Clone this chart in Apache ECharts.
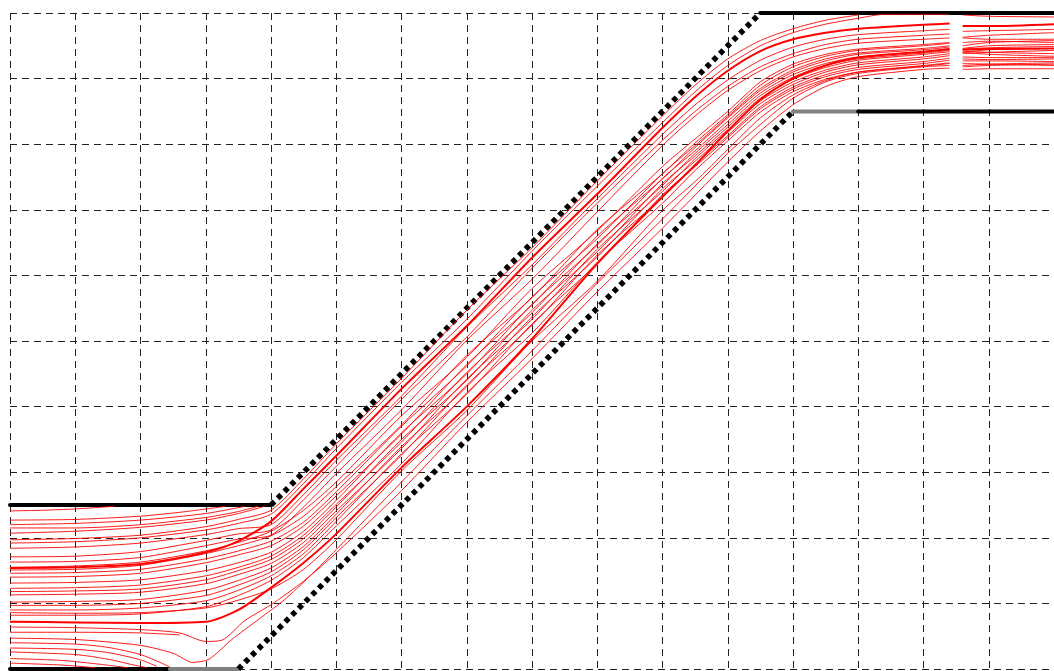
<!DOCTYPE html>
<html>
<head>
<meta charset="utf-8">
<script src="https://cdn.jsdelivr.net/npm/echarts@6/dist/echarts.min.js"></script>
<style>html,body{margin:0;padding:0;background:#fff;}#c{width:1054px;height:671px;}</style>
</head>
<body>
<div id="c"></div>
<script>
// ---- boundary lines (data units: 1 grid cell = 1) ----
const upperFlat  = [[0,2.5],[4,2.5]];
const upperDiag  = [[4,2.5],[11.5,10]];
const upperTop   = [[11.5,10],[16.2,10]];
const lowerFlat  = [[0,0],[2.45,0]];
const lowerGrayA = [[2.45,0],[3.5,0]];
const lowerDiag  = [[3.5,0],[12,8.5]];
const lowerGrayB = [[12,8.5],[13,8.5]];
const lowerTop   = [[13,8.5],[16.2,8.5]];

// ---- trajectories ('-' marks the break near x = 14.5) ----
const a1 = [[0,2.41],[0.5,2.42],[1,2.44],[1.6,2.48]];
const a2 = [[0,2.27],[1,2.28],[2,2.33],[2.7,2.4],[3.3,2.48]];
const a3 = [[0,2.2],[1,2.22],[2,2.27],[3,2.37],[3.6,2.48]];
const a4 = [[0,2.15],[1,2.15],[2,2.2],[3,2.31],[3.5,2.4],[3.8,2.48]];
const a5 = [[0,2.07],[1,2.1],[2,2.16],[3,2.27],[3.5,2.37],[3.9,2.48]];

const b1 = [[0,1.97],[1,1.99],[2,2.04],[3,2.17],[3.5,2.28],[4,2.42],[4.5,2.9],[5,3.43],[6,4.43],[7,5.47],[8,6.42],[9,7.44],[10,8.43],[10.5,8.9],[11,9.3],[11.5,9.58],[12,9.76],[12.5,9.89],[13,9.97]];
const b2 = [[0,1.92],[1,1.94],[2,2.0],[3,2.12],[3.5,2.22],[4,2.36],[4.5,2.83],[5,3.36],[6,4.37],[7,5.33],[8,6.37],[9,7.36],[10,8.33],[10.5,8.8],[11,9.2],[11.5,9.5],[12,9.7],[12.5,9.83],[13,9.92],[13.4,9.98],[14,9.98],[14.4,9.98],[14.5,'-'],[14.6,9.97],[15,9.95],[16,9.94]];
const b3 = [[0,1.54],[1,1.55],[2,1.6],[3,1.78],[3.5,1.95],[4,2.25],[4.5,2.75],[5,3.25],[6,4.27],[7,5.23],[8,6.27],[9,7.24],[10,8.25],[10.5,8.72],[11,9.12],[11.5,9.42],[12,9.6],[12.5,9.7],[13,9.76],[14,9.82],[14.4,9.84],[14.5,'-'],[14.6,9.8],[15,9.8],[16,9.83]];
const b4 = [[0,1.84],[1,1.86],[2,1.92],[3,2.05],[3.5,2.14],[4,2.2],[4.5,2.66],[5,3.18],[6,4.16],[7,5.21],[8,6.16],[9,7.17],[10,8.15],[10.5,8.6],[11,8.98],[11.5,9.28],[12,9.48],[12.5,9.6],[13,9.67],[14,9.73],[14.4,9.75],[14.5,'-'],[14.6,9.72],[15,9.73],[16,9.75]];
const b5 = [[0,1.71],[1,1.72],[2,1.79],[3,1.96],[3.5,2.06],[4,2.12],[4.5,2.58],[5,3.09],[6,4.11],[7,5.06],[8,6.11],[9,7.1],[10,8.06],[10.5,8.5],[11,8.88],[11.5,9.18],[12,9.38],[12.5,9.52],[13,9.6],[14,9.66],[14.4,9.68],[14.5,'-'],[14.6,9.63],[15,9.66],[16,9.7]];
const b6 = [[0,1.63],[1,1.64],[2,1.7],[3,1.88],[3.5,1.98],[4,2.04],[4.5,2.47],[5,2.98],[6,3.95],[7,5.01],[8,5.94],[9,6.97],[10,7.98],[10.5,8.43],[11,8.82],[11.5,9.12],[12,9.33],[12.5,9.46],[13,9.54],[14,9.6],[14.4,9.62],[14.5,'-'],[14.6,9.62],[15,9.6],[16,9.6]];

const c1 = [[0,1.55],[1,1.57],[2,1.63],[3,1.8],[3.5,1.93],[4,2.1],[4.5,2.42],[5,2.85],[6,3.86],[7,4.75],[8,5.8],[9,6.68],[10,7.66],[10.5,8.08],[11,8.5],[11.5,8.95],[12,9.22],[12.5,9.37],[13,9.45],[14,9.52],[14.4,9.55],[14.5,'-'],[14.6,9.55],[15,9.57],[16,9.55]];
const c2 = [[0,1.51],[1,1.52],[2,1.58],[3,1.76],[3.5,1.88],[4,2.03],[4.5,2.33],[5,2.78],[6,3.72],[7,4.78],[8,5.66],[9,6.7],[10,7.55],[10.5,8.02],[11,8.45],[11.5,8.9],[12,9.18],[12.5,9.34],[13,9.43],[14,9.5],[14.4,9.54],[14.5,'-'],[14.6,9.5],[15,9.55],[16,9.58]];
const c3 = [[0,1.46],[1,1.47],[2,1.52],[3,1.68],[3.5,1.8],[4,1.95],[4.5,2.24],[5,2.7],[6,3.7],[7,4.62],[8,5.67],[9,6.56],[10,7.55],[10.5,7.98],[11,8.42],[11.5,8.85],[12,9.13],[12.5,9.3],[13,9.39],[14,9.46],[14.4,9.5],[14.5,'-'],[14.6,9.46],[15,9.5],[16,9.52]];
const c4 = [[0,1.4],[1,1.41],[2,1.46],[3,1.62],[3.5,1.74],[4,1.88],[4.5,2.18],[5,2.64],[6,3.58],[7,4.64],[8,5.55],[9,6.6],[10,7.47],[10.5,7.95],[11,8.4],[11.5,8.82],[12,9.1],[12.5,9.27],[13,9.37],[14,9.44],[14.4,9.48],[14.5,'-'],[14.6,9.45],[15,9.47],[16,9.49]];
const c5 = [[0,1.31],[1,1.32],[2,1.36],[3,1.5],[3.5,1.62],[4,1.78],[4.5,2.1],[5,2.57],[6,3.6],[7,4.5],[8,5.56],[9,6.46],[10,7.48],[10.5,7.9],[11,8.35],[11.5,8.78],[12,9.06],[12.5,9.23],[13,9.33],[14,9.41],[14.4,9.45],[14.5,'-'],[14.6,9.4],[15,9.44],[16,9.46]];
const c6 = [[0,1.23],[1,1.24],[2,1.28],[3,1.42],[3.5,1.55],[4,1.72],[4.5,2.04],[5,2.51],[6,3.46],[7,4.52],[8,5.43],[9,6.48],[10,7.37],[10.5,7.86],[11,8.3],[11.5,8.74],[12,9.02],[12.5,9.2],[13,9.3],[14,9.39],[14.4,9.43],[14.5,'-'],[14.6,9.42],[15,9.4],[16,9.38]];
const c7 = [[0,1.18],[1,1.19],[2,1.22],[3,1.36],[3.5,1.5],[4,1.67],[4.5,1.99],[5,2.47],[6,3.5],[7,4.4],[8,5.47],[9,6.36],[10,7.4],[10.5,7.82],[11,8.26],[11.5,8.7],[12,8.99],[12.5,9.17],[13,9.28],[14,9.37],[14.4,9.41],[14.5,'-'],[14.6,9.38],[15,9.4],[16,9.43]];
const c8 = [[0,1.13],[1,1.14],[2,1.17],[3,1.3],[3.5,1.44],[4,1.61],[4.5,1.93],[5,2.41],[6,3.36],[7,4.42],[8,5.33],[9,6.4],[10,7.28],[10.5,7.78],[11,8.22],[11.5,8.66],[12,8.95],[12.5,9.13],[13,9.24],[14,9.33],[14.4,9.38],[14.5,'-'],[14.6,9.4],[15,9.37],[16,9.34]];
const c9 = [[0,1.02],[1,1.03],[2,1.06],[3,1.2],[3.5,1.35],[4,1.54],[4.5,1.87],[5,2.36],[6,3.39],[7,4.3],[8,5.37],[9,6.28],[10,7.32],[10.5,7.74],[11,8.18],[11.5,8.62],[12,8.91],[12.5,9.1],[13,9.21],[14,9.3],[14.4,9.35],[14.5,'-'],[14.6,9.33],[15,9.32],[16,9.32]];
const c10 = [[0,0.97],[1,0.97],[2,1.0],[3,1.12],[3.5,1.28],[4,1.48],[4.5,1.82],[5,2.31],[6,3.26],[7,4.33],[8,5.24],[9,6.31],[10,7.19],[10.5,7.69],[11,8.13],[11.5,8.57],[12,8.87],[12.5,9.06],[13,9.17],[14,9.26],[14.4,9.31],[14.5,'-'],[14.6,9.3],[15,9.29],[16,9.3]];
const c11 = [[0,0.9],[1,0.9],[2,0.93],[3,1.04],[3.5,1.2],[4,1.42],[4.5,1.76],[5,2.25],[6,3.28],[7,4.19],[8,5.26],[9,6.18],[10,7.23],[10.5,7.66],[11,8.1],[11.5,8.54],[12,8.84],[12.5,9.03],[13,9.14],[14,9.23],[14.4,9.28],[14.5,'-'],[14.6,9.27],[15,9.27],[16,9.26]];
const c12 = [[0,0.82],[1,0.82],[2,0.84],[3,0.95],[3.5,1.12],[4,1.35],[4.5,1.7],[5,2.18],[6,3.13],[7,4.21],[8,5.12],[9,6.2],[10,7.1],[10.5,7.6],[11,8.05],[11.5,8.49],[12,8.8],[12.5,8.99],[13,9.1],[14,9.19],[14.4,9.23],[14.5,'-'],[14.6,9.2],[15,9.22],[16,9.24]];
const c13 = [[0,0.72],[1,0.71],[2,0.7],[3,0.72],[3.5,0.9],[4,1.24],[4.5,1.62],[5,2.06],[6,3.07],[7,4.0],[8,5.03],[9,6.18],[10,7.2],[10.5,7.68],[11,8.2],[11.5,8.68],[12,9.0],[12.5,9.2],[13,9.32],[14,9.41],[14.4,9.45],[14.5,'-'],[14.6,9.44],[15,9.45],[16,9.46]];
const c14 = [[0,0.86],[1,0.85],[2,0.86],[3,0.93],[3.5,1.05],[4,1.22],[4.5,1.52],[5,1.97],[6,3.02],[7,3.94],[8,5.0],[9,5.91],[10,6.99],[10.5,7.43],[11,7.92],[11.5,8.4],[12,8.75],[12.5,8.97],[13,9.1],[14,9.2],[14.4,9.24],[14.5,'-'],[14.6,9.23],[15,9.22],[16,9.2]];

const d1 = [[0,0.64],[1,0.63],[2,0.6],[2.6,0.55],[3.0,0.42],[3.25,0.44],[3.6,0.74],[4,0.98],[4.5,1.34],[5,1.77],[6,2.72],[7,3.76],[8,4.73],[9,5.75],[10,6.72],[11,7.73],[11.5,8.2],[12,8.6],[12.5,8.88],[13,9.03],[14,9.14],[14.4,9.16],[14.5,'-'],[14.6,9.14],[15,9.15],[16,9.15]];
const d2 = [[0,0.47],[1,0.45],[2,0.36],[2.5,0.24],[2.8,0.1],[3.05,0.15],[3.4,0.45],[3.8,0.75],[4.2,1.05],[4.6,1.42],[5,1.82],[6,2.85],[7,3.86],[8,4.85],[9,5.88],[10,6.86],[11,7.86],[11.5,8.3],[12,8.7],[12.5,8.95],[13,9.08],[14,9.18],[14.4,9.2],[14.5,'-'],[14.6,9.18],[15,9.2],[16,9.22]];
const d3 = [[0,0.4],[1,0.38],[1.5,0.33],[2,0.22],[2.3,0.1],[2.45,0.03]];
const d4 = [[0,0.32],[1,0.3],[1.5,0.25],[2,0.14],[2.25,0.04]];
const d5 = [[0,0.26],[1,0.22],[1.5,0.15],[1.9,0.06],[2.1,0.02]];
const d6 = [[0,0.16],[0.8,0.13],[1.4,0.07],[1.8,0.02]];
const d7 = [[0,0.09],[0.8,0.06],[1.3,0.02]];
const d8 = [[0,0.56],[1,0.56],[2,0.55],[2.6,0.52]];

const thinLines  = [a1,a2,a3,a4,a5,b1,b2,b4,b5,b6,c1,c2,c3,c4,c5,c6,c7,c8,c9,c10,c11,c12,c14,d1,d2,d3,d4,d5,d6,d7,d8];
const thickLines = [b3, c13];

const chart = echarts.init(document.getElementById('c'), null, {renderer:'canvas'});
const series = [];
function bound(data, color, width, type){
  series.push({type:'line', data, symbol:'none', clip:false, silent:true, z:2,
    lineStyle:{color, width, type, cap: type==='solid' ? 'round' : 'butt'}});
}
bound(upperFlat,'#000',4,'solid');
bound(upperDiag,'#000',5.5,[5,4.5]);
bound(upperTop,'#000',4,'solid');
bound(lowerFlat,'#000',4,'solid');
bound(lowerGrayA,'#808080',4,'solid');
bound(lowerDiag,'#000',5.5,[5,4.5]);
bound(lowerGrayB,'#808080',4,'solid');
bound(lowerTop,'#000',4,'solid');
thinLines.forEach(d => series.push({type:'line', data:d, symbol:'none', smooth:0.25, connectNulls:false, z:3, silent:true,
  lineStyle:{color:'#ff0000', width:0.9}}));
thickLines.forEach(d => series.push({type:'line', data:d, symbol:'none', smooth:0.25, connectNulls:false, z:4, silent:true,
  lineStyle:{color:'#ff0000', width:2}}));

chart.setOption({
  animation:false,
  backgroundColor:'#fff',
  grid:{left:10, top:13, width:1050, height:656, containLabel:false},
  xAxis:{type:'value', min:0, max:16, interval:1, axisLine:{show:false}, axisTick:{show:false}, axisLabel:{show:false},
    splitLine:{show:true, lineStyle:{color:'#222', width:1, type:[7,5]}}},
  yAxis:{type:'value', min:0, max:10, interval:1, axisLine:{show:false}, axisTick:{show:false}, axisLabel:{show:false},
    splitLine:{show:true, lineStyle:{color:'#222', width:1, type:[7,5]}}},
  series
});
</script>
</body>
</html>
